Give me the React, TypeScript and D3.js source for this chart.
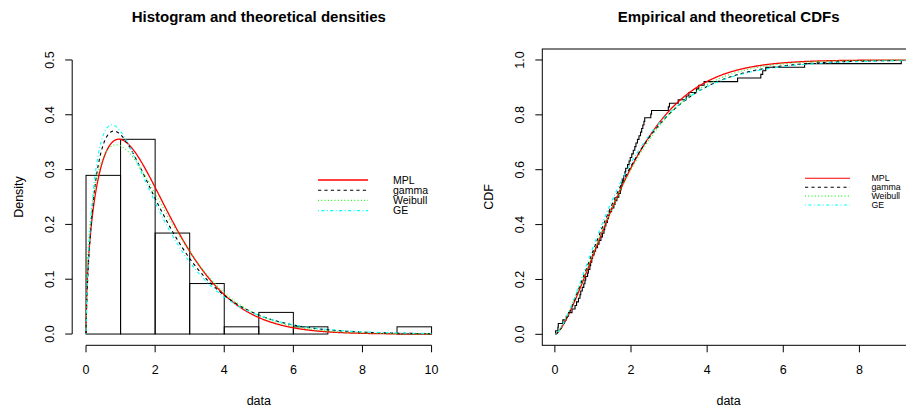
import React from "react";
import * as d3 from "d3";

// Observed sample (sorted)
const obs = [
  0.02, 0.08, 0.09, 0.21, 0.30, 0.36, 0.45, 0.53, 0.57, 0.62, 0.66, 0.68, 0.72, 0.76, 0.79, 0.81,
  0.86, 0.88, 0.92, 0.94, 0.97, 0.99,
  1.03, 1.07, 1.12, 1.16, 1.21, 1.25, 1.29, 1.31, 1.34, 1.38, 1.41, 1.43, 1.49, 1.55, 1.58, 1.63,
  1.68, 1.72, 1.74, 1.76, 1.77, 1.81, 1.84, 1.86, 1.91, 1.95, 1.98,
  2.02, 2.06, 2.10, 2.13, 2.17, 2.21, 2.25, 2.28, 2.31, 2.34, 2.36, 2.52, 2.54, 2.98,
  3.01, 3.24, 3.45, 3.52, 3.72, 3.78, 3.92,
  4.80, 5.41, 5.46, 5.54, 6.56, 9.10,
];

const binEdges = [0, 1, 2, 3, 4, 5, 6, 7, 8, 9, 10];
const densityTicks = [0, 0.1, 0.2, 0.3, 0.4, 0.5];
const leftDataTicks = [0, 2, 4, 6, 8, 10];
const rightDataTicks = [0, 2, 4, 6, 8];
const cdfTicks = [0, 0.2, 0.4, 0.6, 0.8, 1.0];

// Fitted models
const fitNames = ["MPL", "gamma", "Weibull", "GE"];
const fitColors = ["#ff0000", "#000000", "#00ff00", "#00ffff"];
const mplParams = [1.5, 1.4, 1.98]; // d, p, scale (generalized gamma form)
const gammaParams = [1.7, 1.15]; // shape, scale
const weibullParams = [1.4, 2.13]; // shape, scale
const geParams = [1.7, 0.71]; // alpha, lambda

const FONT = "'Liberation Sans', Arial, Helvetica, sans-serif";

function lnGamma(z: number): number {
  const c = [
    0.99999999999980993, 676.5203681218851, -1259.1392167224028, 771.32342877765313,
    -176.61502916214059, 12.507343278686905, -0.13857109526572012, 9.9843695780195716e-6,
    1.5056327351493116e-7,
  ];
  if (z < 0.5) return Math.log(Math.PI / Math.sin(Math.PI * z)) - lnGamma(1 - z);
  z -= 1;
  let x = c[0];
  for (let i = 1; i < 9; i++) x += c[i] / (z + i);
  const t = z + 7.5;
  return 0.5 * Math.log(2 * Math.PI) + (z + 0.5) * Math.log(t) - t + Math.log(x);
}

function gammaP(s: number, x: number): number {
  if (x <= 0) return 0;
  let term = 1 / s;
  let sum = term;
  for (let n = 1; n < 500; n++) {
    term *= x / (s + n);
    sum += term;
    if (term < sum * 1e-13) break;
  }
  return sum * Math.exp(-x + s * Math.log(x) - lnGamma(s));
}

const pdfs: ((x: number) => number)[] = [
  (x) => {
    const [d, p, a] = mplParams;
    if (x <= 0) return 0;
    return Math.exp(Math.log(p) - d * Math.log(a) - lnGamma(d / p) + (d - 1) * Math.log(x) - Math.pow(x / a, p));
  },
  (x) => {
    const [k, th] = gammaParams;
    if (x <= 0) return 0;
    return Math.exp((k - 1) * Math.log(x) - x / th - lnGamma(k) - k * Math.log(th));
  },
  (x) => {
    const [k, l] = weibullParams;
    if (x <= 0) return 0;
    return (k / l) * Math.pow(x / l, k - 1) * Math.exp(-Math.pow(x / l, k));
  },
  (x) => {
    const [al, lam] = geParams;
    if (x <= 0) return 0;
    const e = Math.exp(-lam * x);
    return al * lam * Math.pow(1 - e, al - 1) * e;
  },
];

const cdfs: ((x: number) => number)[] = [
  (x) => {
    const [d, p, a] = mplParams;
    return gammaP(d / p, Math.pow(Math.max(x, 0) / a, p));
  },
  (x) => {
    const [k, th] = gammaParams;
    return gammaP(k, Math.max(x, 0) / th);
  },
  (x) => {
    const [k, l] = weibullParams;
    return 1 - Math.exp(-Math.pow(Math.max(x, 0) / l, k));
  },
  (x) => {
    const [al, lam] = geParams;
    return Math.pow(1 - Math.exp(-lam * Math.max(x, 0)), al);
  },
];

const dashes = ["none", "3.2 3.2", "0.9 2.4", "0.9 2.4 3.2 2.4"];

export default function App() {
  const W = 906;
  const H = 414;

  // Left panel scales
  const xL = d3.scaleLinear().domain([-0.4, 10.4]).range([72.2, 445.4]);
  const yL = d3.scaleLinear().domain([-0.02, 0.52]).range([345, 49]);
  // Right panel scales
  const xR = d3.scaleLinear().domain([-0.33, 9.46]).range([542.3, 915]);
  const yR = d3.scaleLinear().domain([-0.04, 1.04]).range([345.3, 49]);

  const n = obs.length;
  const bins = d3
    .bin()
    .domain([binEdges[0], binEdges[binEdges.length - 1]])
    .thresholds(binEdges.slice(1, -1))(obs);

  const gridL = d3.range(0, 10.0001, 0.02);
  const lineL = d3
    .line<[number, number]>()
    .x((d) => xL(d[0]))
    .y((d) => yL(d[1]));

  const xMin = d3.min(obs) as number;
  const gridR = d3.range(xMin, xR.domain()[1], 0.02);
  const lineR = d3
    .line<[number, number]>()
    .x((d) => xR(d[0]))
    .y((d) => yR(d[1]));

  const ecdfPts: [number, number][] = [[obs[0], 0], ...obs.map((v, i) => [v, (i + 1) / n] as [number, number])];
  const ecdfLine = d3
    .line<[number, number]>()
    .curve(d3.curveStepAfter)
    .x((d) => xR(d[0]))
    .y((d) => yR(d[1]));

  const tick = 7;
  const fs = 12.5;

  const legL = { x0: 318, x1: 368, tx: 393, y0: 180, dy: 10.2, fs: 10.5 };
  const legR = { x0: 805, x1: 850, tx: 871.5, y0: 178.3, dy: 8.9, fs: 8.75 };

  return (
    <svg
      width={W}
      height={H}
      viewBox={`0 0 ${W} ${H}`}
      style={{ position: "absolute", left: 0, top: 0, background: "#fff" }}
      fontFamily={FONT}
    >
      <rect x={0} y={0} width={W} height={H} fill="#fff" />

      {/* ---------- Left: histogram and densities ---------- */}
      <text x={(xL.range()[0] + xL.range()[1]) / 2} y={21.8} textAnchor="middle" fontWeight="bold" fontSize={15}>
        Histogram and theoretical densities
      </text>

      {bins.map((b, i) => {
        const dens = b.length / (n * ((b.x1 as number) - (b.x0 as number)));
        return (
          <rect
            key={i}
            x={xL(b.x0 as number)}
            y={yL(dens)}
            width={xL(b.x1 as number) - xL(b.x0 as number)}
            height={yL(0) - yL(dens)}
            fill="none"
            stroke="#000"
            strokeWidth={1}
          />
        );
      })}

      {pdfs.map((f, i) => (
        <path
          key={i}
          d={lineL(gridL.map((x) => [x, f(x)] as [number, number])) as string}
          fill="none"
          stroke={fitColors[i]}
          strokeWidth={i === 0 ? 1.3 : 1.1}
          strokeDasharray={dashes[i]}
        />
      ))}

      {/* left x axis */}
      <line x1={xL(leftDataTicks[0])} x2={xL(leftDataTicks[leftDataTicks.length - 1])} y1={345.3} y2={345.3} stroke="#000" />
      {leftDataTicks.map((t) => (
        <g key={t}>
          <line x1={xL(t)} x2={xL(t)} y1={345.3} y2={345.3 + tick} stroke="#000" />
          <text x={xL(t)} y={374} textAnchor="middle" fontSize={fs}>
            {t}
          </text>
        </g>
      ))}
      {/* left y axis */}
      <line x1={72.2} x2={72.2} y1={yL(densityTicks[0])} y2={yL(densityTicks[densityTicks.length - 1])} stroke="#000" />
      {densityTicks.map((t) => (
        <g key={t}>
          <line x1={72.2} x2={72.2 - tick} y1={yL(t)} y2={yL(t)} stroke="#000" />
          <text transform={`translate(54,${yL(t)}) rotate(-90)`} textAnchor="middle" fontSize={fs}>
            {t.toFixed(1)}
          </text>
        </g>
      ))}
      <text x={(xL.range()[0] + xL.range()[1]) / 2} y={405} textAnchor="middle" fontSize={fs}>
        data
      </text>
      <text transform={`translate(22.5,197) rotate(-90)`} textAnchor="middle" fontSize={fs}>
        Density
      </text>

      {/* left legend */}
      {fitNames.map((name, i) => (
        <g key={name}>
          <line
            x1={legL.x0}
            x2={legL.x1}
            y1={legL.y0 + i * legL.dy}
            y2={legL.y0 + i * legL.dy}
            stroke={fitColors[i]}
            strokeWidth={i === 0 ? 1.6 : 1.1}
            strokeDasharray={dashes[i]}
          />
          <text x={legL.tx} y={legL.y0 + i * legL.dy + 3.8} fontSize={legL.fs}>
            {name}
          </text>
        </g>
      ))}

      {/* ---------- Right: ECDF and CDFs ---------- */}
      <text x={(xR.range()[0] + xR.range()[1]) / 2} y={21.8} textAnchor="middle" fontWeight="bold" fontSize={15}>
        Empirical and theoretical CDFs
      </text>

      <path d={ecdfLine(ecdfPts) as string} fill="none" stroke="#000" strokeWidth={1.1} />

      {cdfs.map((F, i) => (
        <path
          key={i}
          d={lineR(gridR.map((x) => [x, F(x)] as [number, number])) as string}
          fill="none"
          stroke={fitColors[i]}
          strokeWidth={i === 0 ? 1.3 : 1.1}
          strokeDasharray={dashes[i]}
        />
      ))}

      <rect
        x={xR.range()[0]}
        y={yR.range()[1]}
        width={xR.range()[1] - xR.range()[0]}
        height={yR.range()[0] - yR.range()[1]}
        fill="none"
        stroke="#000"
        strokeWidth={1}
      />
      {rightDataTicks.map((t) => (
        <g key={t}>
          <line x1={xR(t)} x2={xR(t)} y1={345.3} y2={345.3 + tick} stroke="#000" />
          <text x={xR(t)} y={374} textAnchor="middle" fontSize={fs}>
            {t}
          </text>
        </g>
      ))}
      {cdfTicks.map((t) => (
        <g key={t}>
          <line x1={542.3} x2={542.3 - tick} y1={yR(t)} y2={yR(t)} stroke="#000" />
          <text transform={`translate(524,${yR(t)}) rotate(-90)`} textAnchor="middle" fontSize={fs}>
            {t.toFixed(1)}
          </text>
        </g>
      ))}
      <text x={(xR.range()[0] + xR.range()[1]) / 2} y={405} textAnchor="middle" fontSize={fs}>
        data
      </text>
      <text transform={`translate(493,197) rotate(-90)`} textAnchor="middle" fontSize={fs}>
        CDF
      </text>

      {/* right legend */}
      {fitNames.map((name, i) => (
        <g key={name}>
          <line
            x1={legR.x0}
            x2={legR.x1}
            y1={legR.y0 + i * legR.dy}
            y2={legR.y0 + i * legR.dy}
            stroke={fitColors[i]}
            strokeWidth={1.1}
            strokeDasharray={dashes[i]}
          />
          <text x={legR.tx} y={legR.y0 + i * legR.dy + 3.1} fontSize={legR.fs}>
            {name}
          </text>
        </g>
      ))}
    </svg>
  );
}
